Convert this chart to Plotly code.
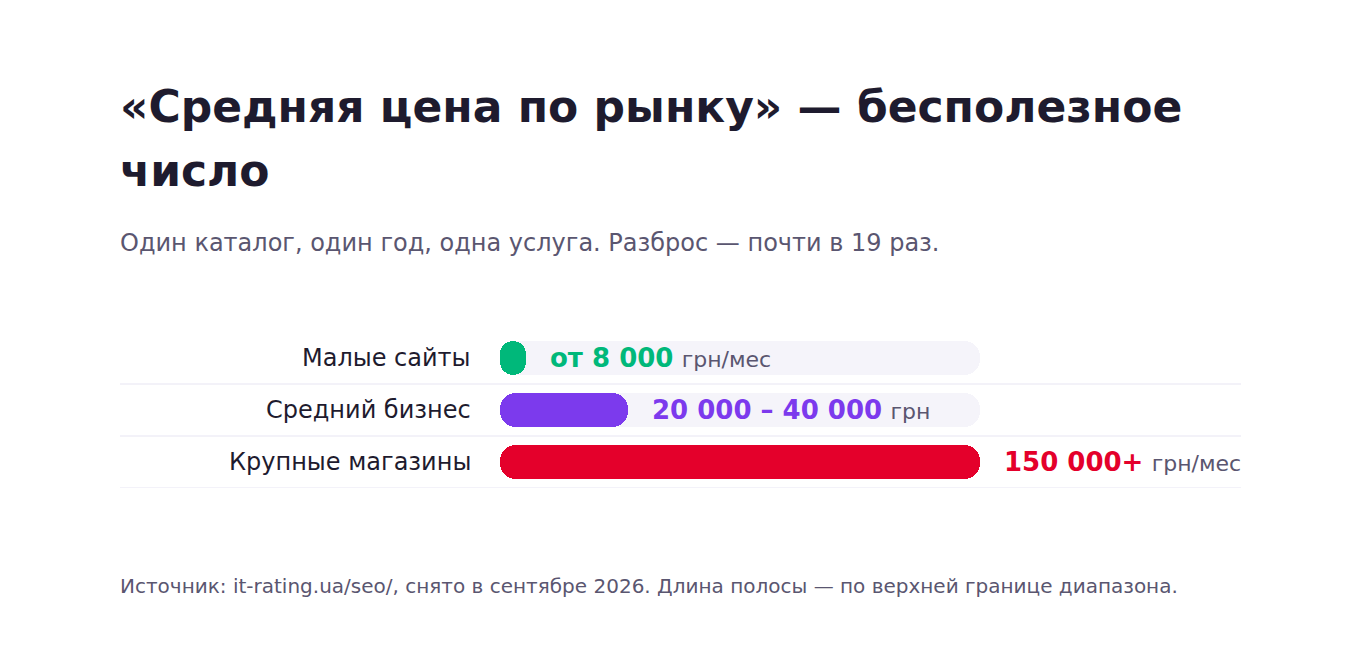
import plotly.graph_objects as go

# данные
categories = ["Малые сайты", "Средний бизнес", "Крупные магазины"]
upper_values = [8000, 40000, 150000]          # верхняя граница диапазона, грн/мес
value_labels = ["от 8 000", "20 000 – 40 000", "150 000+"]
unit_labels = ["грн/мес", "грн", "грн/мес"]
bar_colors = ["#00b87a", "#7c3aed", "#e4002b"]
track_max = 150000

title_lines = ["«Средняя цена по рынку» — бесполезное", "число"]
subtitle = "Один каталог, один год, одна услуга. Разброс — почти в 19 раз."
source = "Источник: it-rating.ua/seo/, снято в сентябре 2026. Длина полосы — по верхней границе диапазона."

# страница сдвигает график на 8px (отступ body)
OFF = 8
W, H = 1360, 660
L, T = 500 - OFF, 332 - OFF
R, B = W - (980 - OFF), H - (488 - OFF)
PW, PH = W - L - R, H - T - B

def px_x(px):
    return (px - OFF - L) / PW

def px_y(py):
    return (H - B - (py - OFF)) / PH

FONT = "DejaVu Sans"
DARK = "#1e1b2e"
GRAY = "#5a5670"
RAD = 16
BW = 0.64

fig = go.Figure()
# фон-дорожка; base задан -> скруглены оба конца
fig.add_trace(go.Bar(
    y=categories, x=[track_max] * len(categories), base=[0] * len(categories), orientation="h",
    marker=dict(color="#f5f4fa", cornerradius=RAD, line_width=0),
    width=BW, hoverinfo="skip", showlegend=False,
))
fig.add_trace(go.Bar(
    y=categories, x=upper_values, base=[0] * len(categories), orientation="h",
    marker=dict(color=bar_colors, cornerradius=RAD, line_width=0),
    width=BW, hoverinfo="skip", showlegend=False, yaxis="y2",
))

annotations = []
for cat, v, lab, unit, col in zip(categories, upper_values, value_labels, unit_labels, bar_colors):
    annotations.append(dict(
        x=px_x(473), xref="paper", y=cat, yref="y", xanchor="right",
        text=cat, showarrow=False, font=dict(family=FONT, size=24, color=DARK),
    ))
    annotations.append(dict(
        x=v, xref="x", y=cat, yref="y", xanchor="left", xshift=22,
        text=f"<b>{lab}</b> <span style='font-size:22px;color:{GRAY}'>{unit}</span>",
        showarrow=False, font=dict(family=FONT, size=26, color=col),
    ))

# заголовок, подзаголовок, источник
for txt, py, size, color in [
    (f"<b>{title_lines[0]}</b>", 107, 44, DARK),
    (f"<b>{title_lines[1]}</b>", 170, 44, DARK),
    (subtitle, 243, 24, GRAY),
    (source, 586, 20, GRAY),
]:
    annotations.append(dict(x=px_x(118), y=px_y(py), xref="paper", yref="paper",
                            xanchor="left", yanchor="middle", text=txt, showarrow=False,
                            font=dict(family=FONT, size=size, color=color)))

# разделители строк
shapes = []
for yy in [0.5, 1.5, 2.5]:
    shapes.append(dict(type="line", xref="paper", yref="y", x0=px_x(120), x1=px_x(1241),
                       y0=yy, y1=yy, line=dict(color="#e7e5f2", width=1)))

yax = dict(visible=False, fixedrange=True, range=[2.5, -0.5],
           categoryorder="array", categoryarray=categories)

fig.update_layout(
    width=W, height=H,
    margin=dict(l=L, r=R, t=T, b=B, pad=0),
    paper_bgcolor="white", plot_bgcolor="white",
    barmode="overlay", bargap=0,
    xaxis=dict(range=[0, track_max], visible=False, fixedrange=True),
    yaxis=yax,
    yaxis2=dict(yax, overlaying="y"),
    annotations=annotations, shapes=shapes,
    font=dict(family=FONT),
    hovermode=False,
)

fig.write_html("out.html", config={"displayModeBar": False})
